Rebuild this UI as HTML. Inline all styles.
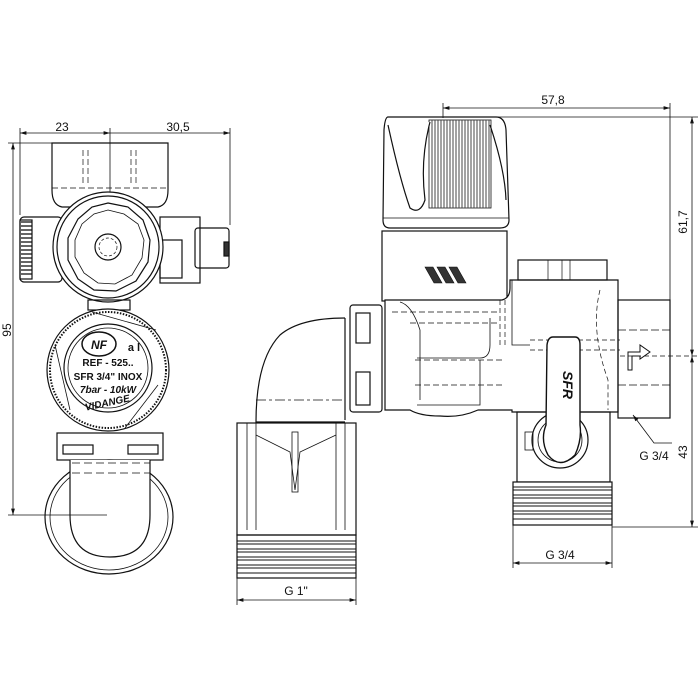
<!DOCTYPE html>
<html><head><meta charset="utf-8"><style>
body{margin:0;background:#fff}
svg{display:block}
text{font-family:"Liberation Sans",sans-serif;fill:#111}
</style></head><body>
<svg width="700" height="700" viewBox="0 0 700 700" xmlns="http://www.w3.org/2000/svg" fill="none" stroke="#111" stroke-width="1.2">
<defs>
<marker id="a" viewBox="0 0 10 6" refX="10" refY="3" markerWidth="8" markerHeight="5" orient="auto-start-reverse"><path d="M0,0L10,3L0,6z" fill="#111" stroke="none"/></marker>
</defs>
<!-- ===== LEFT VIEW ===== -->
<g stroke-width="0.8">
<line x1="20" y1="133" x2="110" y2="133" marker-start="url(#a)" marker-end="url(#a)"/>
<line x1="110" y1="133" x2="230" y2="133" marker-end="url(#a)"/>
<line x1="20" y1="128" x2="20" y2="215"/><line x1="230" y1="128" x2="230" y2="225"/>
<line x1="110" y1="128" x2="110" y2="245"/>
<line x1="13" y1="143" x2="13" y2="515" marker-start="url(#a)" marker-end="url(#a)"/>
<line x1="8" y1="143" x2="52" y2="143"/>
</g>
<text x="62" y="131" font-size="12" text-anchor="middle" stroke="none">23</text>
<text x="178" y="131" font-size="12" text-anchor="middle" stroke="none">30,5</text>
<text x="11" y="330" font-size="12" text-anchor="middle" stroke="none" transform="rotate(-90 11 330)">95</text>
<path d="M52,143 H168 V190 Q168,205 158,207 H62 Q52,205 52,190 Z"/>
<path d="M52,188 H168" stroke-dasharray="6,3" stroke-width="0.7"/>
<path d="M83,150V185M88,150V185M131,150V185M136,150V185" stroke-dasharray="6,3" stroke-width="0.7"/>
<rect x="20" y="217" width="42" height="65" rx="4"/>
<path d="M21,222H32M21,226H32M21,230H32M21,234H32M21,238H32M21,242H32M21,246H32M21,250H32M21,254H32M21,258H32M21,262H32M21,266H32M21,270H32M21,274H32" stroke-width="1.5" stroke="#333"/>
<rect x="20" y="220" width="12" height="59"/>
<rect x="160" y="217" width="40" height="66"/>
<rect x="160" y="240" width="22" height="38"/>
<rect x="195" y="228" width="34" height="40" rx="3"/>
<rect x="224" y="242" width="5" height="14" fill="#333"/>
<circle cx="108" cy="247" r="55" fill="#fff"/>
<circle cx="108" cy="247" r="51"/>
<polygon points="108,203 128,207 143,220 150,240 148,262 136,281 116,291 94,290 78,279 68,260 68,238 78,219 92,207" />
<polygon points="108,210 124,214 138,224 144,240 142,258 132,275 115,284 98,283 84,273 75,257 75,240 82,224 94,214" stroke-width="0.8"/>
<circle cx="108" cy="247" r="13"/><circle cx="108" cy="247" r="9" stroke-dasharray="3,2" stroke-width="0.7"/>
<rect x="88" y="300" width="42" height="10"/>
<circle cx="108" cy="370" r="61" fill="#fff"/>
<circle cx="108" cy="370" r="58" stroke-dasharray="1.5,1.5" stroke-width="2"/>
<circle cx="108" cy="368" r="44"/>
<circle cx="108" cy="368" r="40" stroke-width="0.8"/>
<path d="M55,345 L70,410 M158,385 L125,428 M92,312 L156,330" stroke-width="0.8"/>
<ellipse cx="99" cy="344" rx="17" ry="12" stroke-width="1.5"/>
<text x="99" y="349" font-size="12" font-weight="bold" font-style="italic" text-anchor="middle" stroke="none">NF</text>
<text x="134" y="351" font-size="11" font-weight="bold" text-anchor="middle" stroke="none">a l</text>
<text x="108" y="366" font-size="10" font-weight="bold" text-anchor="middle" stroke="none">REF - 525..</text>
<text x="108" y="380" font-size="10" font-weight="bold" text-anchor="middle" stroke="none">SFR 3/4" INOX</text>
<text x="108" y="393" font-size="10" font-weight="bold" font-style="italic" text-anchor="middle" stroke="none">7bar - 10kW</text>
<text x="108" y="406" font-size="10" font-weight="bold" font-style="italic" text-anchor="middle" stroke="none" transform="rotate(-12 108 406)">VIDANGE</text>
<rect x="57" y="433" width="106" height="27" fill="#fff"/>
<rect x="63" y="445" width="30" height="9"/><rect x="128" y="445" width="30" height="9"/>
<ellipse cx="109" cy="517" rx="64" ry="57"/>
<ellipse cx="109" cy="517" rx="59" ry="53" stroke-width="0.8"/>
<path d="M70,460 V515 Q70,557 110,557 Q150,557 150,515 V460" fill="#fff"/>
<path d="M72,463 H150 M72,473 H150" stroke-dasharray="8,4" stroke-width="0.7"/>
<line x1="8" y1="515" x2="107" y2="515" stroke-width="0.8"/>

<!-- ===== RIGHT VIEW ===== -->
<g stroke-width="0.8">
<line x1="443" y1="108" x2="670" y2="108" marker-start="url(#a)" marker-end="url(#a)"/>
<line x1="443" y1="103" x2="443" y2="118"/><line x1="670" y1="103" x2="670" y2="300"/>
<line x1="692" y1="117" x2="692" y2="356" marker-start="url(#a)" marker-end="url(#a)"/>
<line x1="692" y1="356" x2="692" y2="527" marker-start="url(#a)" marker-end="url(#a)"/>
<line x1="443" y1="117" x2="698" y2="117"/>
<line x1="620" y1="356" x2="698" y2="356" stroke-dasharray="5,3"/>
<line x1="612" y1="527" x2="698" y2="527"/>
<line x1="237" y1="600" x2="356" y2="600" marker-start="url(#a)" marker-end="url(#a)"/>
<line x1="237" y1="578" x2="237" y2="605"/><line x1="356" y1="578" x2="356" y2="605"/>
<line x1="513" y1="563" x2="612" y2="563" marker-start="url(#a)" marker-end="url(#a)"/>
<line x1="513" y1="525" x2="513" y2="568"/><line x1="612" y1="525" x2="612" y2="568"/>
<path d="M633,415 L654,443 H672" marker-start="url(#a)"/>
</g>
<text x="553" y="104" font-size="12" text-anchor="middle" stroke="none">57,8</text>
<text x="687" y="222" font-size="12" text-anchor="middle" stroke="none" transform="rotate(-90 687 222)">61,7</text>
<text x="687" y="452" font-size="12" text-anchor="middle" stroke="none" transform="rotate(-90 687 452)">43</text>
<text x="654" y="460" font-size="12" text-anchor="middle" stroke="none">G 3/4</text>
<text x="560" y="559" font-size="12" text-anchor="middle" stroke="none">G 3/4</text>
<text x="296" y="595" font-size="12" text-anchor="middle" stroke="none">G 1"</text>
<!-- knob -->
<path d="M388,117 H496 Q505,117 506,130 L509,220 Q509,228 500,228 H390 Q383,228 383,220 L384,130 Q385,117 388,117 Z"/>
<rect x="429" y="120" width="62" height="88" stroke-width="0.8"/>
<path d="M432,120V208M435,120V208M438,120V208M441,120V208M444,120V208M447,120V208M450,120V208M453,120V208M456,120V208M459,120V208M462,120V208M465,120V208M468,120V208M471,120V208M474,120V208M477,120V208M480,120V208M483,120V208M486,120V208M489,120V208" stroke="#444" stroke-width="1"/>
<path d="M388,125 Q400,180 410,208 Q420,215 425,200 Q420,160 430,122" fill="#fff"/>
<path d="M490,125 Q505,170 506,200" />
<line x1="383" y1="218" x2="509" y2="218" stroke-width="0.7"/>
<rect x="382" y="231" width="125" height="70"/>
<path d="M425,267 h8 l9,16 h-8z M437,267 h8 l9,16 h-8z M449,267 h8 l9,16 h-8z" fill="#333" stroke-width="0.6"/>
<path d="M385,300 H502 Q510,298 510,288 V280 H618 V412 H512 V410 H478 Q460,418 440,416 Q420,416 410,410 H385 Z" fill="#fff"/>
<path d="M392,312 H500 M410,323 H500 M415,360 H505 M415,385 H505" stroke-dasharray="6,3" stroke-width="0.7"/>
<path d="M400,302 Q412,305 420,330 V400" stroke-width="0.8"/>
<path d="M417,358 H480 Q490,358 490,345 V318 M417,405 H480 V360" stroke-width="0.8"/>
<path d="M512,280 V345 H530" stroke-width="0.8"/>
<path d="M500,300 V345 M505,300 V345" stroke-dasharray="5,3" stroke-width="0.7"/>
<path d="M530,340 H620 M530,350 H620 M600,290 Q590,330 608,380 V410" stroke-dasharray="5,3" stroke-width="0.7"/>
<rect x="518" y="260" width="89" height="20"/>
<path d="M548,260V280M562,260V280M570,260V280" stroke-width="0.7"/>
<rect x="618" y="300" width="52" height="118"/>
<path d="M618,330 H670 M618,385 H670" stroke-dasharray="8,3" stroke-width="0.7"/>
<path d="M628,370 V352 H640 V345 L650,352 L640,359 V356 H632 V370 Z" stroke-width="1"/>
<rect x="350" y="305" width="32" height="107" rx="3"/>
<rect x="356" y="313" width="14" height="30"/><rect x="356" y="372" width="14" height="33"/>
<path d="M345,318 Q300,318 280,335 Q256,360 256,422 H345" fill="#fff"/>
<path d="M345,318 V420" stroke-width="1.2"/>
<path d="M256,400 H345" stroke-dasharray="10,3,3,3" stroke-width="0.7"/>
<path d="M260,423 H345" stroke-dasharray="6,3" stroke-width="0.7"/>
<rect x="237" y="423" width="119" height="112"/>
<path d="M247,423 V530 M256,423 V530 M336,423 V530 M345,423 V530" stroke-width="0.8"/>
<path d="M256,435 L290,452 L295,490 L300,452 L336,435" stroke-width="0.8"/>
<rect x="292" y="432" width="6" height="60" stroke-width="0.8"/>
<rect x="237" y="535" width="119" height="43"/>
<path d="M237,541H356M237,544H356M237,549H356M237,552H356M237,557H356M237,560H356M237,565H356M237,568H356M237,573H356" stroke-width="0.9"/>
<rect x="517" y="412" width="93" height="70"/>
<circle cx="560" cy="440" r="28"/>
<circle cx="560" cy="440" r="22" stroke-width="0.8"/>
<rect x="525" y="432" width="8" height="18" stroke-width="0.8"/>
<rect x="513" y="482" width="99" height="43" fill="#fff"/>
<path d="M513,487H612M513,490H612M513,495H612M513,498H612M513,503H612M513,506H612M513,511H612M513,514H612M513,519H612" stroke-width="0.9"/>
<path d="M553,337 H575 Q580,337 580,345 V425 Q582,440 575,455 Q560,470 548,455 Q540,440 546,425 L547,345 Q548,337 553,337 Z" fill="#fff" stroke-width="1.4"/>
<text x="563" y="385" font-size="14" font-weight="bold" font-style="italic" text-anchor="middle" stroke="none" transform="rotate(90 563 385)">SFR</text>
</svg>
</body></html>
